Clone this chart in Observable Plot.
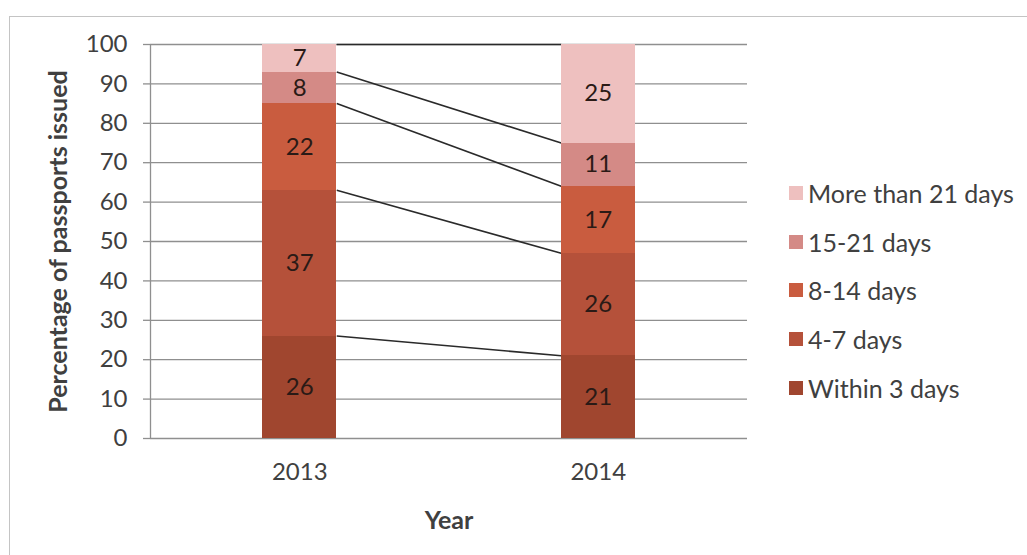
<!DOCTYPE html>
<html>
<head>
<meta charset="utf-8">
<script src="https://cdn.jsdelivr.net/npm/d3@7"></script>
<script src="https://cdn.jsdelivr.net/npm/@observablehq/plot@0.6"></script>
<style>
  html, body { margin: 0; padding: 0; background: #fff; overflow: hidden; }
  #wrap { position: relative; width: 1027px; height: 555px; font-family: Lato, "Open Sans", sans-serif; }
  #border { position: absolute; left: 9px; top: 16px; width: 1100px; height: 700px; border: 1.5px solid #c4c4c4; box-sizing: border-box; }
  #chart { position: absolute; left: 0; top: 0; }
  #chart svg g[aria-label="y-axis label"] text, #chart svg g[aria-label="x-axis label"] text { font-weight: bold; font-size: 25px; }
  #legend { position: absolute; left: 789px; top: 169px; }
  .item { display: flex; align-items: center; height: 48.6px; font-size: 25px; color: #404040; }
  .sw { width: 14px; height: 14px; margin-right: 5px; flex: none; }
</style>
</head>
<body>
<div id="wrap">
  <div id="border"></div>
  <div id="chart"></div>
  <div id="legend"></div>
</div>
<script>
const years = [2013, 2014];
const categories = ["Within 3 days", "4-7 days", "8-14 days", "15-21 days", "More than 21 days"];
const values2013 = [26, 37, 22, 8, 7];
const values2014 = [21, 26, 17, 11, 25];
const yTicks = [0, 10, 20, 30, 40, 50, 60, 70, 80, 90, 100];
const colors = ["#a0462f", "#b5513a", "#c95c3f", "#d48a86", "#eec0bf"];

const halfBar = 0.124;
const seriesByYear = {2013: values2013, 2014: values2014};

const rows = [];
const tops = {};
for (const yr of years) {
  let acc = 0;
  tops[yr] = [];
  seriesByYear[yr].forEach((v, i) => {
    rows.push({year: yr, category: categories[i], value: v, y1: acc, y2: acc + v});
    acc += v;
    tops[yr].push(acc);
  });
}
const connectors = categories.map((c, i) => ({a: Math.min(tops[2013][i], 100), b: Math.min(tops[2014][i], 100)}));

const chart = Plot.plot({
  width: 1027,
  height: 555,
  marginLeft: 150,
  marginRight: 280,
  marginTop: 44,
  marginBottom: 117,
  style: {fontFamily: "Lato, 'Open Sans', sans-serif", fontSize: "24px", color: "#404040", background: "transparent", overflow: "visible"},
  x: {domain: [years[0] - 0.5, years[1] + 0.5]},
  y: {domain: [0, 100]},
  color: {domain: categories, range: colors},
  marks: [
    Plot.gridY(yTicks, {stroke: "#8f8f8f", strokeOpacity: 1, strokeWidth: 1.3}),
    Plot.link(connectors, {x1: () => years[0] + halfBar, x2: () => years[1] - halfBar, y1: "a", y2: "b", stroke: "#2a2a2a", strokeWidth: 1.6}),
    Plot.rect(rows, {x1: d => d.year - halfBar, x2: d => d.year + halfBar, y1: "y1", y2: "y2", fill: "category", shapeRendering: "crispEdges"}),
    Plot.text(rows, {x: "year", y: d => (d.y1 + d.y2) / 2, text: "value", fill: "#2a1a16", fontSize: 24}),
    Plot.ruleX([years[0] - 0.5], {y1: 0, y2: 100, stroke: "#8f8f8f", strokeWidth: 1.3}),
    Plot.axisY({ticks: yTicks, tickSize: 7, tickPadding: 16, stroke: "#8f8f8f", strokeWidth: 1.3, fontSize: 24,
      label: "Percentage of passports issued", labelAnchor: "center", labelArrow: "none", labelOffset: 101, fill: "#404040"}),
    Plot.axisX({ticks: years, tickSize: 0, tickPadding: 24, tickFormat: d => String(d), fontSize: 24,
      label: "Year", labelAnchor: "center", labelArrow: "none", labelOffset: 90, fill: "#404040"})
  ]
});
document.getElementById("chart").appendChild(chart);
chart.querySelectorAll('g[aria-label="y-axis label"], g[aria-label="x-axis label"]').forEach(g => {
  g.setAttribute("font-weight", "bold");
  g.setAttribute("font-size", "25");
});

const legend = document.getElementById("legend");
const legendOrder = categories.map((c, i) => ({c, col: colors[i]})).reverse();
legendOrder.forEach(({c, col}) => {
  const row = document.createElement("div");
  row.className = "item";
  const sw = document.createElement("span");
  sw.className = "sw";
  sw.style.background = col;
  const t = document.createElement("span");
  t.textContent = c;
  row.appendChild(sw);
  row.appendChild(t);
  legend.appendChild(row);
});
</script>
</body>
</html>
